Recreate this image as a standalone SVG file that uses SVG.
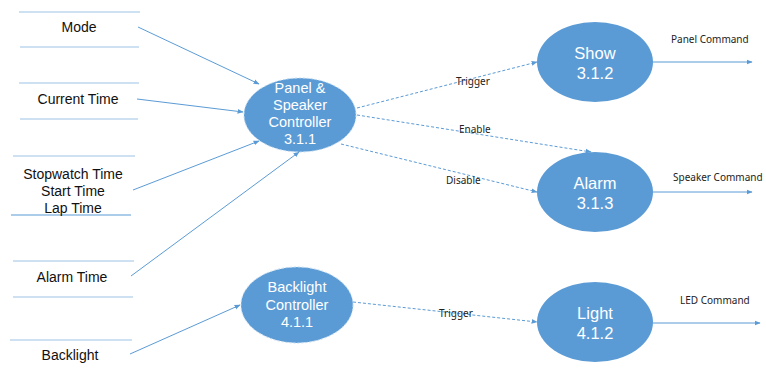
<svg xmlns="http://www.w3.org/2000/svg" width="766" height="374" viewBox="0 0 766 374">
<defs>
<marker id="arr" viewBox="0 0 10 10" refX="9" refY="5" markerWidth="6" markerHeight="6" orient="auto" markerUnits="userSpaceOnUse">
<path d="M0,1 L10,5 L0,9 z" fill="#5B9BD5"/>
</marker>
<style>
.store{stroke:#9DC3E6;stroke-width:1.2}
.flow{stroke:#5B9BD5;stroke-width:1;fill:none;marker-end:url(#arr)}
.ctrl{stroke:#5B9BD5;stroke-width:1;stroke-dasharray:3 2;fill:none;marker-end:url(#arr)}
.proc{fill:#5B9BD5}
.dproc{fill:#5B9BD5;stroke:#BDD7EE;stroke-width:1;stroke-dasharray:2 2}
.pt{font-family:"Liberation Sans",Arial,sans-serif;font-size:14.5px;fill:#ffffff;text-anchor:middle}
.bt{font-family:"Liberation Sans",Arial,sans-serif;font-size:16.5px;fill:#ffffff;text-anchor:middle}
.st{font-family:"Liberation Sans",Arial,sans-serif;font-size:14px;fill:#111;text-anchor:middle}
.lb{font-family:"Noto Sans","Open Sans",sans-serif;font-size:10px;fill:#222}
</style>
</defs>
<rect width="766" height="374" fill="#ffffff"/>

<g id="store-mode">
<line class="store" x1="19" y1="12" x2="140" y2="12"/>
<line class="store" x1="20" y1="47" x2="139" y2="47"/>
<text class="st" x="79" y="32">Mode</text>
</g>
<g id="store-current-time">
<line class="store" x1="19" y1="83" x2="139" y2="83"/>
<line class="store" x1="20" y1="119" x2="138" y2="119"/>
<text class="st" x="78" y="104">Current Time</text>
</g>
<g id="store-stopwatch">
<line class="store" x1="13" y1="156" x2="135" y2="156"/>
<line class="store" x1="11" y1="215" x2="131" y2="215" style="stroke:#5B9BD5"/>
<text class="st" x="73" y="179">Stopwatch Time</text>
<text class="st" x="73" y="196">Start Time</text>
<text class="st" x="73" y="213">Lap Time</text>
</g>
<g id="store-alarm-time">
<line class="store" x1="13" y1="261" x2="134" y2="261"/>
<line class="store" x1="13" y1="297" x2="133" y2="297"/>
<text class="st" x="72" y="282">Alarm Time</text>
</g>
<g id="store-backlight">
<line class="store" x1="10" y1="340" x2="132" y2="340"/>
<text class="st" x="70" y="360">Backlight</text>
</g>

<g id="connectors">
<line class="flow" x1="138" y1="27" x2="259" y2="84"/>
<line class="flow" x1="137" y1="99" x2="243" y2="112"/>
<line class="flow" x1="133" y1="190" x2="259" y2="141"/>
<line class="flow" x1="131" y1="276" x2="299" y2="152"/>
<line class="flow" x1="130" y1="354" x2="240" y2="305"/>
<line class="ctrl" x1="357" y1="108" x2="537" y2="62"/>
<line class="ctrl" x1="357" y1="115" x2="591" y2="152"/>
<line class="ctrl" x1="341" y1="144" x2="537" y2="192"/>
<line class="ctrl" x1="353" y1="302" x2="537" y2="322"/>
<line class="flow" x1="653" y1="62" x2="752" y2="62"/>
<line class="flow" x1="653" y1="192" x2="752" y2="192"/>
<line class="flow" x1="653" y1="323" x2="760" y2="323"/>
<text class="lb" x="456" y="85">Trigger</text>
<text class="lb" x="459" y="133">Enable</text>
<text class="lb" x="446" y="184">Disable</text>
<text class="lb" x="439" y="317">Trigger</text>
<text class="lb" x="671" y="43">Panel Command</text>
<text class="lb" x="673" y="181">Speaker Command</text>
<text class="lb" x="680" y="304">LED Command</text>
</g>

<g id="node-311">
<ellipse class="dproc" cx="300" cy="115" rx="56" ry="37"/>
<text class="pt" x="300" y="93">Panel &amp;</text>
<text class="pt" x="300" y="110">Speaker</text>
<text class="pt" x="300" y="127">Controller</text>
<text class="pt" x="300" y="144">3.1.1</text>
</g>
<g id="node-411">
<ellipse class="dproc" cx="297" cy="305" rx="56" ry="38"/>
<text class="pt" x="297" y="292">Backlight</text>
<text class="pt" x="297" y="310">Controller</text>
<text class="pt" x="297" y="327">4.1.1</text>
</g>
<g id="node-312">
<ellipse class="proc" cx="595" cy="62" rx="58" ry="40"/>
<text class="bt" x="595" y="59">Show</text>
<text class="bt" x="595" y="79">3.1.2</text>
</g>
<g id="node-313">
<ellipse class="proc" cx="595" cy="192" rx="58" ry="40"/>
<text class="bt" x="595" y="189">Alarm</text>
<text class="bt" x="595" y="209">3.1.3</text>
</g>
<g id="node-412">
<ellipse class="proc" cx="595" cy="322" rx="58" ry="40"/>
<text class="bt" x="595" y="319">Light</text>
<text class="bt" x="595" y="339">4.1.2</text>
</g>
</svg>
